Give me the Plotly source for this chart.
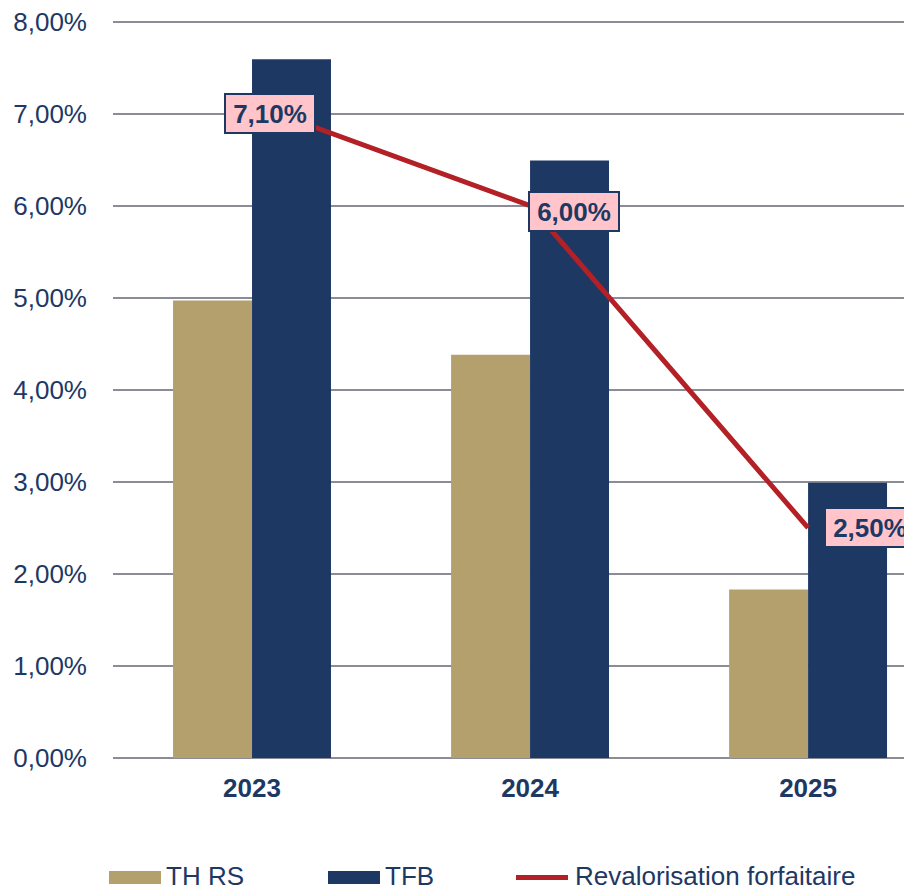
import plotly.graph_objects as go

# ---- data ----
years = ["2023", "2024", "2025"]
th_rs = [4.97, 4.38, 1.83]
tfb = [7.59, 6.49, 2.99]
revalorisation = [7.10, 6.00, 2.50]
y_ticks = [0, 1, 2, 3, 4, 5, 6, 7, 8]
y_tick_labels = ["0,00%", "1,00%", "2,00%", "3,00%", "4,00%", "5,00%", "6,00%", "7,00%", "8,00%"]
legend_names = ["TH RS", "TFB", "Revalorisation forfaitaire"]

# ---- style ----
TAN = "#B4A06C"
NAVY = "#1E3864"
RED = "#B32026"
PINK = "#FFC5CB"
GRID = "#8C8C96"
FONT = "Liberation Sans, Arial, sans-serif"

W, H = 904, 888
Y_TOP = 8.05
ML, MR, MB = 113, 0, 130
PH_UNIT = 92  # pixels per 1 %
MT = H - MB - round(Y_TOP * PH_UNIT)
PW = W - ML - MR
PH = H - MT - MB


def px_x(p):
    return (p - ML) / PW


def px_y(p):
    return (H - MB - p) / PH


fig = go.Figure()
fig.add_trace(go.Bar(x=years, y=th_rs, name=legend_names[0], marker_color=TAN,
                     marker_line_width=0, showlegend=False))
fig.add_trace(go.Bar(x=years, y=tfb, name=legend_names[1], marker_color=NAVY,
                     marker_line_width=0, showlegend=False))
fig.add_trace(go.Scatter(x=years, y=revalorisation, name=legend_names[2], mode="lines",
                         line=dict(color=RED, width=5), showlegend=False))

label_xshift = [18, 44, 62]
label_yshift = [-9, -6, 0]
for i, v in enumerate(revalorisation):
    fig.add_annotation(x=i, y=v, xref="x", yref="y",
                       text="<b>" + f"{v:.2f}".replace(".", ",") + "%</b>",
                       showarrow=False, xshift=label_xshift[i], yshift=label_yshift[i],
                       font=dict(family=FONT, size=26, color=NAVY),
                       bgcolor=PINK, bordercolor=NAVY, borderwidth=2, borderpad=3,
                       width=82, height=31, align="center")

# custom legend
leg_y = 876
swatches = [(109, 161, TAN, "bar"), (328, 380, NAVY, "bar"), (514, 570, RED, "line")]
for (x0, x1, col, kind), name in zip(swatches, legend_names):
    if kind == "bar":
        fig.add_shape(type="rect", xref="paper", yref="paper",
                      x0=px_x(x0), x1=px_x(x1), y0=px_y(877.5 + 6.5), y1=px_y(877.5 - 6.5),
                      fillcolor=col, line_width=0)
    else:
        fig.add_shape(type="line", xref="paper", yref="paper",
                      x0=px_x(x0 + 2), x1=px_x(x1 - 2), y0=px_y(877.5), y1=px_y(877.5),
                      line=dict(color=col, width=5))
    fig.add_annotation(x=px_x(x1 + 3), y=px_y(leg_y), xref="paper", yref="paper",
                       text=name, showarrow=False, xanchor="left", yanchor="middle",
                       font=dict(family=FONT, size=26, color=NAVY))

fig.update_layout(
    width=W, height=H,
    margin=dict(l=ML, r=MR, t=MT, b=MB, pad=0),
    paper_bgcolor="white", plot_bgcolor="white",
    barmode="group", bargap=0.432, bargroupgap=0,
    font=dict(family=FONT, color=NAVY),
)
fig.update_xaxes(range=[-0.5, 2.345], showgrid=False, showline=False, zeroline=False,
                 tickfont=dict(family=FONT, size=26, color=NAVY),
                 tickvals=years, ticktext=["<b>" + y + "</b>" for y in years],
                 ticklabelstandoff=12)
fig.update_yaxes(range=[0, Y_TOP], tickvals=y_ticks, ticktext=y_tick_labels,
                 showgrid=True, gridcolor=GRID, gridwidth=2,
                 zeroline=True, zerolinecolor=GRID, zerolinewidth=2,
                 showline=False,
                 tickfont=dict(family=FONT, size=26, color=NAVY),
                 ticklabelstandoff=25)

fig.write_html("out.html", config={"displayModeBar": False},
               post_script="document.body.style.margin='0';")
